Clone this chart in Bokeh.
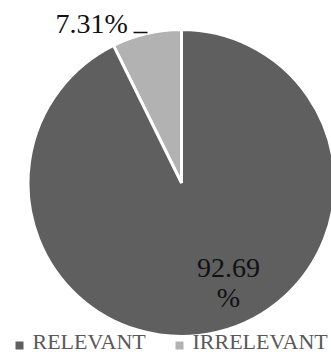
import math
from bokeh.plotting import figure
from bokeh.models import Range1d, ColumnDataSource
from bokeh.core.properties import value
from bokeh.embed import file_html
from bokeh.resources import INLINE

categories = ["IRRELEVANT", "RELEVANT"]
percents = [7.31, 92.69]
colors = ["#b2b2b2", "#5f5f5f"]
label_texts = ["7.31%", "92.69\n%"]

W, H = 331, 355
CX, CY, R = 181, H - 182.5, 153.5
DY = 10  # baseline correction

starts, ends = [], []
a = math.pi / 2
for v in percents:
    starts.append(a)
    a += v / 100 * 2 * math.pi
    ends.append(a)

src = ColumnDataSource(dict(start=starts, end=ends, color=colors, cat=categories))

p = figure(width=W, height=H, output_backend="svg", toolbar_location=None,
           x_range=Range1d(0, W), y_range=Range1d(0, H), min_border=0)
p.axis.visible = False
p.grid.visible = False
p.outline_line_color = None
p.background_fill_color = "white"

p.wedge(x=CX, y=CY, radius=R, start_angle="start", end_angle="end",
        fill_color="color", line_color="white", line_width=3, source=src)

font = value("Liberation Serif")
p.text(x=[55], y=[H - 33 + DY], text=[label_texts[0]], text_font=font,
       text_font_size="28px", text_color="#111111", text_align="left",
       text_baseline="alphabetic")
p.segment(x0=[133], y0=[H - 32], x1=[147], y1=[H - 32], line_color="#111111", line_width=1.5)
p.text(x=[228, 228], y=[H - 277 + DY, H - 307 + DY], text=label_texts[1].split("\n"), text_font=font,
       text_font_size="28px", text_color="#111111", text_align="center",
       text_baseline="alphabetic")

leg_x = [19, 179]
p.scatter(x=leg_x, y=[H - 345] * 2, marker="square", size=8,
          fill_color=[colors[1], colors[0]], line_color=None)
p.text(x=[x + 13 for x in leg_x], y=[H - 351 + DY] * 2, text=[categories[1], categories[0]],
       text_font=font, text_font_size="22px", text_color="#595959",
       text_align="left", text_baseline="alphabetic")

open("out.html", "w").write(file_html(p, INLINE))
